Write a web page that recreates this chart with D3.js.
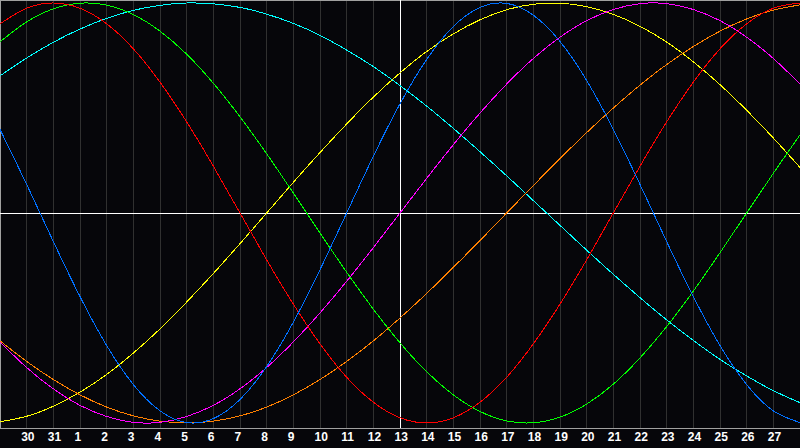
<!DOCTYPE html>
<html>
<head>
<meta charset="utf-8">
<script src="https://cdn.jsdelivr.net/npm/d3@7"></script>
<style>
  body { margin: 0; background: #06060a; }
  svg { display: block; }
  .tick text { font-family: "Liberation Sans", Arial, sans-serif; font-weight: bold; font-size: 12px; fill: #fff; }
</style>
</head>
<body>
<svg width="800" height="448"></svg>
<script>
// day of month for each column (29th .. 28th of next month)
var days = [29, 30, 31, 1, 2, 3, 4, 5, 6, 7, 8, 9, 10, 11, 12, 13, 14, 15, 16, 17, 18, 19, 20, 21, 22, 23, 24, 25, 26, 27, 28];

// cycle values per day (-1 .. 1)
var blue = [0.398, 0.136, -0.136, -0.398, -0.631, -0.817, -0.942, -0.998, -0.979, -0.888, -0.731, -0.520, -0.270, 0, 0.270, 0.520, 0.731, 0.888, 0.979, 0.998, 0.942, 0.817, 0.631, 0.398, 0.136, -0.136, -0.398, -0.631, -0.817, -0.942, -0.998];
var red = [0.901, 0.975, 1, 0.975, 0.901, 0.782, 0.623, 0.434, 0.223, 0, -0.223, -0.434, -0.623, -0.782, -0.901, -0.975, -1, -0.975, -0.901, -0.782, -0.623, -0.434, -0.223, 0, 0.223, 0.434, 0.623, 0.782, 0.901, 0.975, 1];
var green = [0.815, 0.910, 0.972, 0.999, 0.990, 0.945, 0.866, 0.756, 0.618, 0.458, 0.282, 0.095, -0.095, -0.282, -0.458, -0.618, -0.756, -0.866, -0.945, -0.990, -0.999, -0.972, -0.910, -0.815, -0.690, -0.541, -0.372, -0.189, 0, 0.189, 0.372];
var magenta = [-0.614, -0.736, -0.837, -0.916, -0.969, -0.997, -0.997, -0.969, -0.916, -0.837, -0.736, -0.614, -0.476, -0.325, -0.165, 0, 0.165, 0.325, 0.476, 0.614, 0.736, 0.837, 0.916, 0.969, 0.997, 0.997, 0.969, 0.916, 0.837, 0.736, 0.614];
var yellow = [-0.994, -0.968, -0.920, -0.853, -0.769, -0.667, -0.552, -0.424, -0.288, -0.146, 0, 0.146, 0.288, 0.424, 0.552, 0.667, 0.769, 0.853, 0.920, 0.968, 0.994, 0.999, 0.983, 0.946, 0.889, 0.814, 0.720, 0.611, 0.489, 0.357, 0.217];
var orange = [-0.609, -0.707, -0.793, -0.866, -0.924, -0.966, -0.991, -1, -0.991, -0.966, -0.924, -0.866, -0.793, -0.707, -0.609, -0.5, -0.383, -0.259, -0.131, 0, 0.131, 0.259, 0.383, 0.5, 0.609, 0.707, 0.793, 0.866, 0.924, 0.966, 0.991];
var cyan = [0.653, 0.738, 0.813, 0.876, 0.927, 0.965, 0.989, 1.000, 0.996, 0.979, 0.947, 0.903, 0.846, 0.776, 0.697, 0.607, 0.509, 0.403, 0.292, 0.177, 0.059, -0.059, -0.177, -0.292, -0.403, -0.509, -0.607, -0.697, -0.776, -0.846, -0.903];

var series = [
    { values: cyan, color: "#00ffff" },
    { values: yellow, color: "#ffff00" },
    { values: orange, color: "#ff8000" },
    { values: magenta, color: "#ff00ff" },
    { values: green, color: "#00ff00" },
    { values: red, color: "#ff0000" },
    { values: blue, color: "#0070ff" }
];

var svg = d3.select("svg");
var plotBottom = 428;

var x = d3.scaleLinear().domain([0, days.length - 1]).range([0, 800]);
var y = d3.scaleLinear().domain([-1, 1]).range([423, 3]);

// day grid
svg.append("g")
    .selectAll("line")
    .data(d3.range(1, days.length - 1))
    .enter().append("line")
    .attr("x1", d => x(d)).attr("x2", d => x(d))
    .attr("y1", 0).attr("y2", plotBottom)
    .attr("stroke", "#303030")
    .attr("shape-rendering", "crispEdges");

// frame
svg.append("path")
    .attr("d", "M0.5," + plotBottom + "V0.5H800")
    .attr("fill", "none")
    .attr("stroke", "#a0a0a0")
    .attr("shape-rendering", "crispEdges");

// zero line and today marker
svg.append("line")
    .attr("x1", 0).attr("x2", 800)
    .attr("y1", y(0)).attr("y2", y(0))
    .attr("stroke", "#fff")
    .attr("shape-rendering", "crispEdges");
svg.append("line")
    .attr("x1", x(15) + 0.5).attr("x2", x(15) + 0.5)
    .attr("y1", 0).attr("y2", plotBottom)
    .attr("stroke", "#fff")
    .attr("shape-rendering", "crispEdges");

var line = d3.line()
    .x((d, i) => x(i))
    .y(d => y(d))
    .curve(d3.curveNatural);

svg.append("g")
    .selectAll("path")
    .data(series)
    .enter().append("path")
    .attr("d", d => line(d.values))
    .attr("fill", "none")
    .attr("stroke", d => d.color)
    .attr("stroke-width", 1)
    .attr("shape-rendering", "crispEdges");

// bottom axis
var axis = svg.append("g")
    .attr("transform", "translate(0," + plotBottom + ")")
    .call(d3.axisBottom(x)
        .tickValues(d3.range(1, days.length - 1))
        .tickFormat(i => days[i])
        .tickSize(0)
        .tickPadding(6));
axis.select(".domain")
    .attr("d", "M0,0.5H800")
    .attr("stroke", "#a0a0a0")
    .attr("shape-rendering", "crispEdges");
axis.selectAll(".tick text")
    .attr("text-anchor", "start")
    .attr("dx", -6)
    .attr("y", 4)
    .attr("dy", "0.71em");
</script>
</body>
</html>
